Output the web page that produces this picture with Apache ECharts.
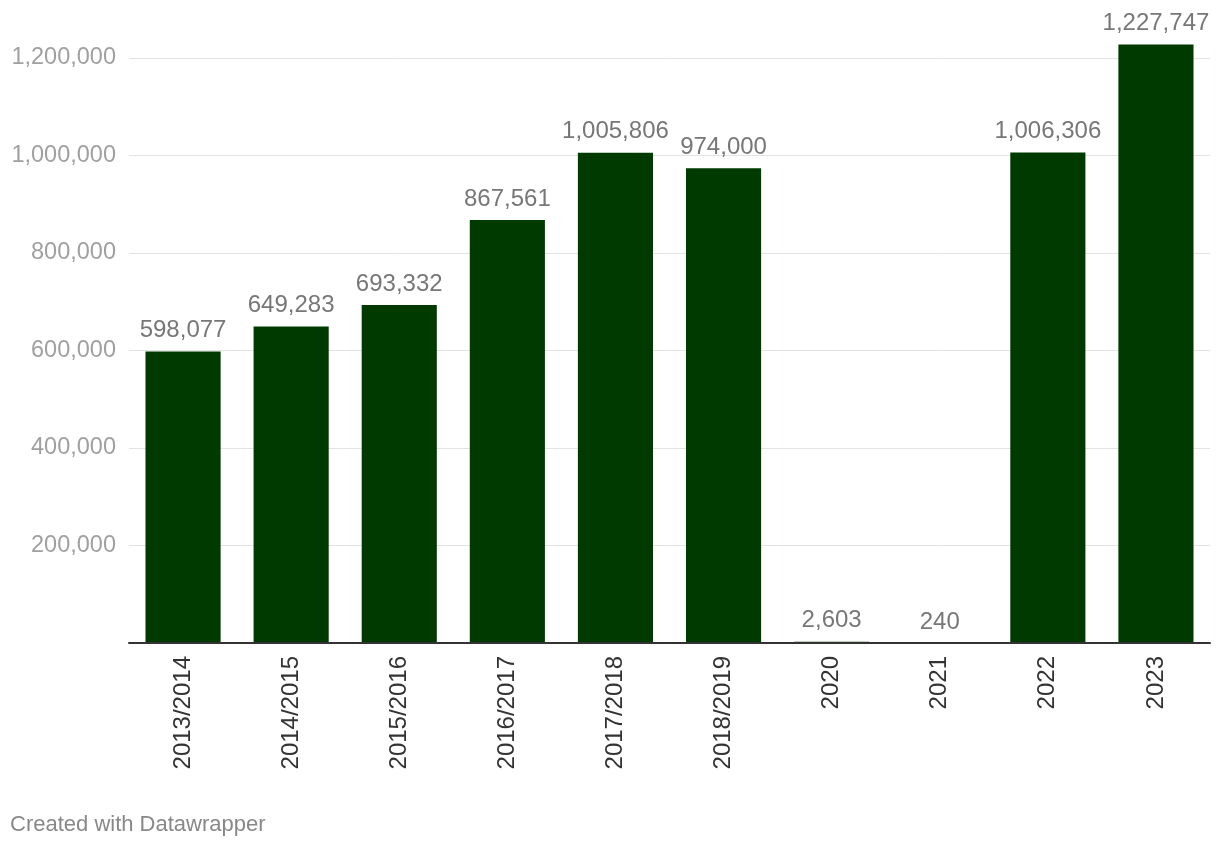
<!DOCTYPE html>
<html>
<head>
<meta charset="utf-8">
<script src="https://cdn.jsdelivr.net/npm/echarts@6/dist/echarts.min.js"></script>
<style>
  html, body { margin: 0; padding: 0; background: #fff; }
  #chart { width: 1220px; height: 850px; }
</style>
</head>
<body>
<div id="chart"></div>
<script>
// data
var years = ["2013/2014", "2014/2015", "2015/2016", "2016/2017", "2017/2018",
             "2018/2019", "2020", "2021", "2022", "2023"];
var visitors = [598077, 649283, 693332, 867561, 1005806, 974000, 2603, 240, 1006306, 1227747];
var yTicks = [0, 200000, 400000, 600000, 800000, 1000000, 1200000];

var font = "'Liberation Sans', Arial, Helvetica, sans-serif";
var chart = echarts.init(document.getElementById("chart"));

chart.setOption({
  animation: false,
  textStyle: { fontFamily: font },
  grid: { left: 129, right: 10, top: 58, bottom: 207 },
  graphic: [{
    type: "text",
    left: 10,
    top: 814,
    style: { text: "Created with Datawrapper", fill: "#888", font: "22px " + font }
  }],
  xAxis: {
    type: "category",
    data: years,
    z: 5,
    axisLine: { lineStyle: { color: "#333", width: 2 } },
    axisTick: { show: false },
    axisLabel: {
      rotate: 90,
      color: "#333",
      fontSize: 24,
      margin: 13
    }
  },
  yAxis: {
    type: "value",
    min: yTicks[0],
    max: yTicks[yTicks.length - 1],
    interval: 200000,
    axisLine: { show: false },
    axisTick: { show: false },
    splitLine: { lineStyle: { color: "#e3e3e3", width: 1 } },
    axisLabel: {
      color: "#a0a0a0",
      fontSize: 23.5,
      margin: 13,
      formatter: function (v) { return v === 0 ? "" : v.toLocaleString("en-US"); }
    }
  },
  series: [{
    type: "bar",
    data: visitors,
    clip: false,
    barWidth: "69.5%",
    itemStyle: { color: "#003a00" },
    label: {
      show: true,
      position: "top",
      distance: 9,
      color: "#777",
      fontSize: 24,
      formatter: function (p) { return p.value.toLocaleString("en-US"); }
    }
  }]
});
</script>
</body>
</html>
